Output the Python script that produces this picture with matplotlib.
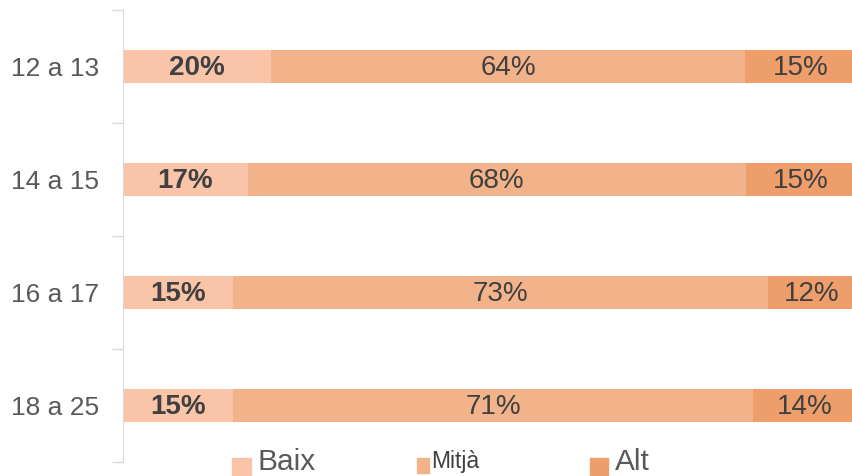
import matplotlib
matplotlib.use("Agg")
import matplotlib.pyplot as plt
from matplotlib.patches import Rectangle
import numpy as np

plt.rcParams["font.family"] = ["Liberation Sans", "DejaVu Sans"]

CATEGORIES = ["12 a 13", "14 a 15", "16 a 17", "18 a 25"]
SERIES = ["Baix", "Mitjà", "Alt"]
BAIX = [20, 17, 15, 15]
MITJA = [64, 68, 73, 71]
ALT = [15, 15, 12, 14]
COLORS = ["#F9C4A8", "#F2B38B", "#EE9E6B"]
TEXT = "#404040"
GREY = "#595959"


def main():
    fig = plt.figure(figsize=(8.52, 4.76), dpi=100)
    ax = fig.add_axes([123 / 852, 14 / 476, 1 - 123 / 852, 452 / 476])

    data = np.array([BAIX, MITJA, ALT], dtype=float)
    totals = data.sum(axis=0)
    shares = data / totals * 100  # 100% stacked, like the original

    y = np.arange(len(CATEGORIES))
    left = np.zeros(len(CATEGORIES))
    for k, name in enumerate(SERIES):
        ax.barh(y, shares[k], left=left, height=0.30, color=COLORS[k], label=name, zorder=2)
        for yi, l, w, v in zip(y, left, shares[k], data[k]):
            ax.text(l + w / 2, yi + 0.01, f"{int(v)}%", ha="center", va="center",
                    fontsize=20, color=TEXT, fontweight="bold" if k == 0 else "normal")
        left += shares[k]

    ax.set_xlim(0, 99.45)
    ax.set_ylim(len(CATEGORIES) - 0.5, -0.5)
    ax.set_xticks([])
    ax.set_yticks(y)
    ax.set_yticklabels(CATEGORIES, fontsize=19, color=GREY)
    ax.tick_params(axis="y", which="major", length=0, pad=17)
    ax.set_yticks(np.arange(-0.5, len(CATEGORIES)), minor=True)
    ax.tick_params(axis="y", which="minor", length=8, color="#D9D9D9", width=1)
    for s in ["top", "right", "bottom"]:
        ax.spines[s].set_visible(False)
    ax.spines["left"].set_color("#D9D9D9")

    # legend along the bottom edge
    W, H = 852, 476
    legend = [
        (232, 458, 19, 18, 258, 470, 21.5, GREY),
        (417, 458, 12, 15, 431, 468, 16.5, TEXT),
        (590, 458, 18, 17, 615, 470, 21.5, GREY),
    ]
    for (sx, sy, sw, sh, tx, ty, fs, tc), name, c in zip(legend, SERIES, COLORS):
        fig.patches.append(Rectangle((sx / W, 1 - (sy + sh) / H), sw / W, sh / H,
                                     transform=fig.transFigure, color=c))
        fig.text(tx / W, 1 - ty / H, name, fontsize=fs, color=tc, ha="left", va="baseline")

    fig.savefig("out.png", dpi=100)


if __name__ == "__main__":
    main()
